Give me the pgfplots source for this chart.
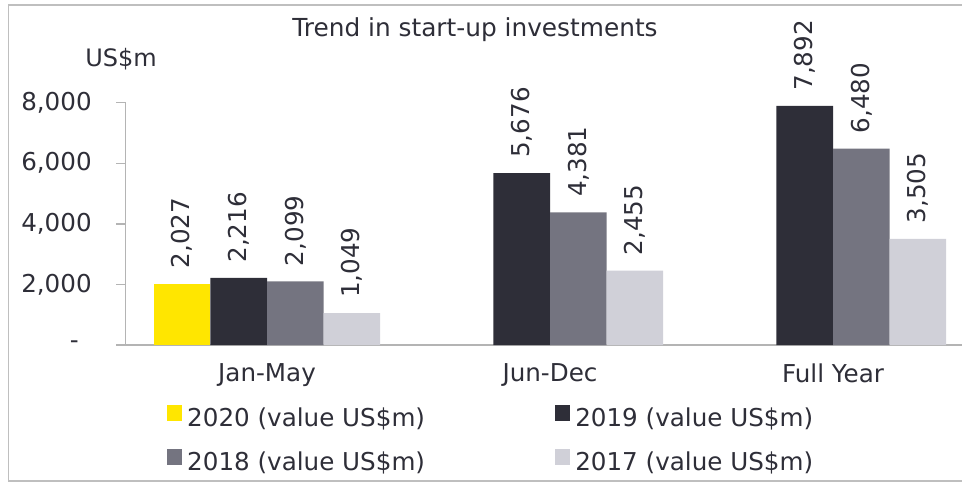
\documentclass[border=0pt]{standalone}
\usepackage{fontspec}
\setmainfont{DejaVu Sans}
\usepackage{pgfplots}
\pgfplotsset{compat=1.18}
\definecolor{eyyellow}{HTML}{FFE600}
\definecolor{eydark}{HTML}{2E2E38}
\definecolor{eygray}{HTML}{747480}
\definecolor{eylight}{HTML}{D0D0D8}
\definecolor{framegray}{HTML}{BFBFBF}
\definecolor{axisgray}{HTML}{B4B4B4}
\newcommand\chartfont{\fontsize{12.3}{14}\selectfont}

\begin{document}
\begin{tikzpicture}
\path[use as bounding box, clip] (0,0) rectangle (481pt,241pt);
% outer frame (cropped on the right)
\draw[framegray, line width=0.8pt] (490pt,238.5pt) -- (4.25pt,238.5pt) -- (4.25pt,0.4pt) -- (490pt,0.4pt);
\node[anchor=base, text=eydark, font=\fontsize{12.4}{14}\selectfont] at (237.5pt,222.5pt) {Trend in start-up investments};
\node[anchor=base west, inner sep=0pt, text=eydark, font=\fontsize{12}{14}\selectfont] at (42.5pt,207.5pt) {US\$m};

\begin{axis}[
    at={(62.75pt,68.5pt)}, anchor=south west,
    scale only axis, width=424.5pt, height=121.15pt,
    xmin=-0.5, xmax=2.5, ymin=0, ymax=8000,
    ybar, bar width=0.2,
    axis x line=bottom, axis y line=left,
    axis line style={-, draw=axisgray, line width=0.75pt},
    xtick={0,1,2}, xticklabels={Jan-May,Jun-Dec,Full Year},
    x tick style={draw=none},
    ytick={0,2000,4000,6000,8000},
    yticklabels={{-\kern6.5pt},{2,000},{4,000},{6,000},{8,000}},
    y tick style={draw=axisgray, line width=0.75pt},
    tick align=outside, major tick length=4.5pt,
    ticklabel style={font=\chartfont, text=eydark},
    yticklabel style={anchor=east, inner sep=0pt, xshift=-12.2pt},
    xticklabel style={anchor=north, inner sep=0pt, yshift=-4.5pt},
    /pgf/number format/.cd, 1000 sep={,}, assume math mode=true, /pgfplots/.cd,
    nodes near coords,
    every node near coord/.append style={rotate=90, anchor=west, inner xsep=7.5pt, inner ysep=0pt,
        text=eydark, font=\chartfont},
    legend columns=2,
    legend image code/.code={\fill[#1] (0pt,0pt) rectangle (7.5pt,8pt);},
    legend style={at={(0.0489,-0.248)}, anchor=north west,
        draw=none, fill=none, inner sep=0pt, outer sep=0pt,
        font=\chartfont, text=eydark,
        nodes={inner sep=0pt, text height=8pt, text depth=2.5pt},
        row sep=8.8pt,
        /tikz/every odd column/.append style={column sep=2.6pt},
        /tikz/every even column/.append style={column sep=65pt}},
    legend cell align=left,
]
\addplot[fill=eyyellow, draw=none, bar shift=-0.3] coordinates {(0,2027)};
\addplot[fill=eydark, draw=none, bar shift=-0.1] coordinates {(0,2216) (1,5676) (2,7892)};
\addplot[fill=eygray, draw=none, bar shift=0.1] coordinates {(0,2099) (1,4381) (2,6480)};
\addplot[fill=eylight, draw=none, bar shift=0.3] coordinates {(0,1049) (1,2455) (2,3505)};
\legend{2020 (value US\$m), 2019 (value US\$m), 2018 (value US\$m), 2017 (value US\$m)}
\end{axis}
\end{tikzpicture}
\end{document}
